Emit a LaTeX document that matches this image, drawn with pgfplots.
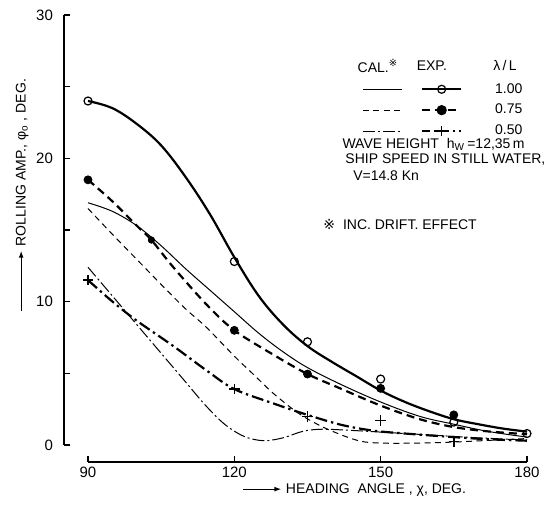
\documentclass[border=0pt]{standalone}
\usepackage{pgfplots}
\pgfplotsset{compat=1.18}
\usetikzlibrary{arrows.meta}
\usepackage{fontspec}
\setmainfont{Liberation Sans}
\newfontfamily\dejavu{DejaVu Sans}
\newcommand{\refmark}{{\dejavu ※}}
\newcommand{\rarrow}[1]{\tikz[baseline=-0.6ex]\draw[line width=0.6pt,-{Latex[length=3.5pt,width=2.4pt]}] (0,0)--(#1,0);}
\begin{document}
\fontsize{7}{8.4}\selectfont
\begin{tikzpicture}[font=\fontsize{7}{8.4}\selectfont]
\begin{axis}[
  scale only axis, width=219.5pt, height=215pt,
  xmin=90, xmax=180, ymin=0, ymax=30,
  axis lines*=left,
  axis x line shift=8.5pt,
  axis y line shift=12pt,
  axis line style={line width=0.6pt},
  tick align=inside,
  xtick={90,120,150,180},
  ytick={0,5,...,30},
  yticklabels={0,,10,,20,,30},
  major tick length=3pt,
  tick style={line width=0.6pt, black},
  /pgf/number format/assume math mode=true,
  tick label style={font=\fontsize{7.5}{9}\selectfont},
  yticklabel style={xshift=-3pt},
  clip=false,
  xlabel={\rarrow{19pt}\ HEADING\ \ ANGLE\ , χ, DEG.},
  xlabel style={at={(axis description cs:0.607,-0.105)}, anchor=center},
  ylabel={\rarrow{30pt}\ ROLLING AMP., φ\textsubscript{o}\ , DEG.},
  ylabel style={at={(axis description cs:-0.150,0.581)}, anchor=center},
  legend columns=2,
  legend style={draw=none, fill=none, at={(axis cs:146.2,25.26)}, anchor=north west,
    inner sep=0pt, column sep=0pt, row sep=4.5pt,
    nodes={inner sep=0pt},
    /tikz/column 1/.style={column sep=8.5pt},
    /tikz/column 3/.style={column sep=16.5pt},
    font=\fontsize{7}{8.4}\selectfont},
  legend cell align=left,
  legend image code/.code={\draw[mark repeat=2,mark phase=2,#1] plot coordinates {(0cm,0cm) (0.34cm,0cm) (0.68cm,0cm)};},
]
\coordinate (O) at (axis cs:90,0);
% EXP 1.00 thick solid line
\addplot[forget plot, black, line width=1.1pt, smooth, tension=0.6] coordinates {
(90,24.0)(95,23.5)(100,22.4)(105,20.9)(110,18.7)(115,16.1)(120,13.1)(125,10.4)(130,8.4)(135,6.9)(140,5.8)(145,4.8)(150,3.8)(155,3.0)(160,2.35)(165,1.8)(170,1.45)(175,1.15)(180,0.93)};
% CAL 1.00 thin solid
\addplot[forget plot, black, line width=0.5pt, smooth, tension=0.6] coordinates {
(90,16.9)(95,16.3)(100,15.3)(105,13.9)(110,12.3)(115,10.8)(120,9.3)(125,7.8)(130,6.5)(135,5.4)(142,4.2)(150,3.0)(158,2.0)(165,1.45)(172,0.95)(180,0.55)};
% EXP 0.75 thick dashed
\addplot[forget plot, black, line width=1.1pt, dash pattern=on 4pt off 2.5pt, smooth, tension=0.55] coordinates {
(90,18.5)(95,17.0)(100,15.3)(103,14.3)(107.5,12.4)(114.3,9.8)(120,8.0)(128,6.3)(135,4.95)(141.7,3.95)(150,2.75)(158,1.8)(165,1.25)(172,0.95)(180,0.75)};
% CAL 0.75 thin dashed
\addplot[forget plot, black, line width=0.5pt, dash pattern=on 3pt off 2.2pt, smooth, tension=0.55] coordinates {
(90,16.5)(95,14.7)(100,12.95)(105,11.2)(110,9.5)(114.3,8.2)(120,6.2)(124,4.9)(128,3.6)(133,2.25)(137,1.45)(140.3,0.93)(144,0.45)(147,0.2)(152,0.12)(160,0.15)(166,0.22)(172,0.32)(180,0.45)};
% CAL 0.50 thin dash-dot
\addplot[forget plot, black, line width=0.5pt, dash pattern=on 6pt off 1.5pt on 1pt off 1.5pt, smooth, tension=0.55] coordinates {
(90,12.4)(95,10.4)(100,8.4)(105,6.4)(110,4.4)(114,2.8)(118,1.45)(122,0.6)(126,0.3)(130,0.5)(134,0.95)(138,1.1)(145,1.0)(150,0.9)(160,0.7)(170,0.5)(180,0.35)};
% EXP 0.50 thick dash-dot
\addplot[forget plot, black, line width=1.1pt, dash pattern=on 6pt off 2pt on 1.2pt off 2pt, smooth, tension=0.55] coordinates {
(90,11.5)(94,10.3)(97.2,9.4)(100.7,8.5)(107.5,6.9)(114.3,5.2)(120,3.9)(128,2.9)(135,2.1)(142,1.4)(148.5,1.0)(155,0.8)(165,0.55)(172,0.4)(180,0.3)};
% markers
\addplot[forget plot, only marks, mark=*, mark size=2pt, black] coordinates {
(90,18.5)(120,8.0)(135,4.95)(150,3.95)(165,2.1)};
\addplot[forget plot, only marks, mark=*, mark size=1.6pt, black] coordinates {(103,14.3)};
\addplot[forget plot, only marks, mark=o, mark size=2pt, mark options={fill=white, line width=0.6pt}, black] coordinates {
(90,24.0)(120,12.8)(135,7.2)(150,4.6)(165,1.6)(180,0.8)};
\addplot[forget plot, only marks, mark=+, mark size=2.6pt, mark options={line width=0.7pt}, black] coordinates {
(90,11.5)(120,3.9)(135,2.0)(150,1.7)(165,0.25)};
% legend
\addlegendimage{black, line width=0.5pt}
\addlegendentry{{}}
\addlegendimage{black, line width=1.1pt, mark=o, mark size=2pt, mark options={solid, fill=white, line width=0.6pt}}
\addlegendentry{1.00}
\addlegendimage{black, line width=0.5pt, dash pattern=on 3pt off 2.2pt}
\addlegendentry{{}}
\addlegendimage{black, line width=1.1pt, dash pattern=on 4pt off 2.5pt, mark=*, mark size=2pt, mark options={solid}}
\addlegendentry{0.75}
\addlegendimage{black, line width=0.5pt, dash pattern=on 6pt off 1.5pt on 1pt off 1.5pt}
\addlegendentry{{}}
\addlegendimage{black, line width=1.1pt, dash pattern=on 4pt off 2pt on 1.2pt off 2pt, mark=+, mark size=2.6pt, mark options={solid, line width=0.7pt}}
\addlegendentry{0.50}
% header and notes
\node at (axis cs:149.45,26.45) {CAL.\textsuperscript{\refmark}};
\node at (axis cs:160.5,26.45) {EXP.};
\node at (axis cs:175.5,26.45) {λ\,/\,L};
\node[anchor=west, inner sep=0pt] at (axis cs:142.1,21.0) {WAVE HEIGHT\ \ h\textsubscript{W}\,=12,35\,m};
\node[anchor=west, inner sep=0pt] at (axis cs:142.7,19.9) {SHIP SPEED IN STILL WATER,};
\node[anchor=west, inner sep=0pt] at (axis cs:144.3,18.8) {V=14.8 Kn};
\node[anchor=west, inner sep=0pt] at (axis cs:138.2,15.35) {\refmark\ \ INC. DRIFT. EFFECT};
\end{axis}
\pgfresetboundingbox
\path[use as bounding box] ([shift={(-44pt,-32pt)}]O) rectangle ([shift={(232.5pt,222.5pt)}]O);
\end{tikzpicture}
\end{document}
